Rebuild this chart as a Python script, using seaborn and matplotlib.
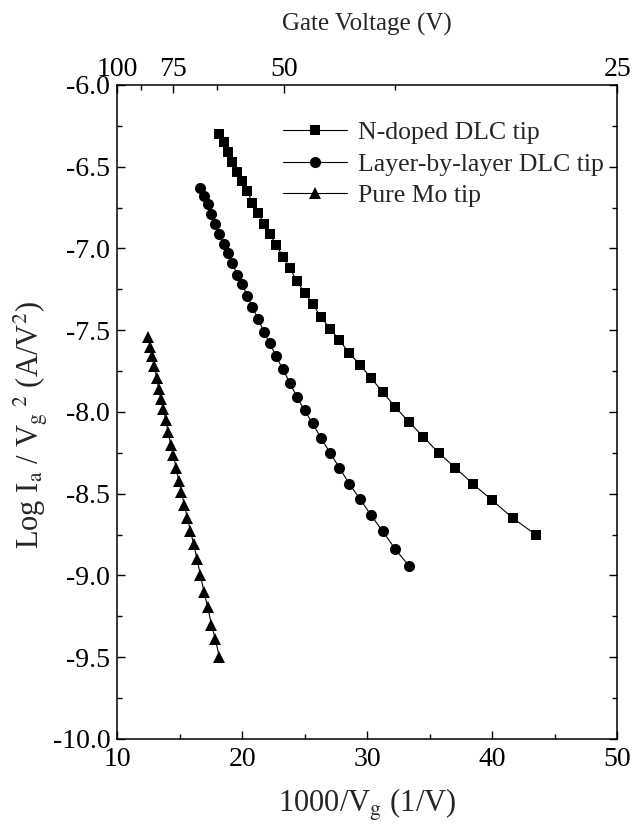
import numpy as np
import pandas as pd
import matplotlib
matplotlib.use('Agg')
import matplotlib.pyplot as plt
from matplotlib.ticker import MultipleLocator, FormatStrFormatter, FixedLocator
import seaborn as sns

# 1000/Vg (1/V) and Log Ia/Vg^2
NDOPED_X = [18.18, 18.52, 18.87, 19.23, 19.61, 20.00, 20.41, 20.83, 21.28, 21.74,
            22.22, 22.73, 23.26, 23.81, 24.39, 25.00, 25.64, 26.32, 27.03, 27.78,
            28.57, 29.41, 30.30, 31.25, 32.26, 33.33, 34.48, 35.71, 37.04, 38.46,
            40.00, 41.67, 43.48]
NDOPED_Y = [-6.30, -6.35, -6.41, -6.47, -6.53, -6.59, -6.65, -6.72, -6.78, -6.85,
            -6.91, -6.98, -7.05, -7.12, -7.20, -7.27, -7.34, -7.42, -7.49, -7.56,
            -7.64, -7.71, -7.79, -7.88, -7.97, -8.06, -8.15, -8.25, -8.34, -8.44,
            -8.54, -8.65, -8.75]

LAYER_X = [16.67, 16.95, 17.24, 17.54, 17.86, 18.18, 18.52, 18.87, 19.23, 19.61,
           20.00, 20.41, 20.83, 21.28, 21.74, 22.22, 22.73, 23.26, 23.81, 24.39,
           25.00, 25.64, 26.32, 27.03, 27.78, 28.57, 29.41, 30.30, 31.25, 32.26,
           33.33]
LAYER_Y = [-6.63, -6.68, -6.73, -6.79, -6.85, -6.91, -6.97, -7.03, -7.09, -7.16,
           -7.22, -7.29, -7.36, -7.43, -7.51, -7.58, -7.66, -7.74, -7.82, -7.91,
           -7.99, -8.07, -8.16, -8.25, -8.34, -8.44, -8.53, -8.63, -8.73, -8.84,
           -8.94]

MO_X = [12.50, 12.66, 12.82, 12.99, 13.16, 13.33, 13.51, 13.70, 13.89, 14.08,
        14.29, 14.49, 14.71, 14.93, 15.15, 15.38, 15.63, 15.87, 16.13, 16.39,
        16.67, 16.95, 17.24, 17.54, 17.86, 18.18]
MO_Y = [-7.54, -7.60, -7.66, -7.72, -7.79, -7.86, -7.92, -7.98, -8.05, -8.12,
        -8.20, -8.26, -8.34, -8.42, -8.49, -8.57, -8.65, -8.73, -8.81, -8.90,
        -9.00, -9.10, -9.19, -9.30, -9.39, -9.50]

TOP_VOLTAGES = [100, 75, 50, 25]
TOP_MINOR_VOLTAGES = [87.5, 62.5, 37.5]

sns.set_style('ticks')
plt.rcParams['font.family'] = ['Liberation Serif', 'DejaVu Serif']
plt.rcParams['mathtext.fontset'] = 'stix'
plt.rcParams['axes.unicode_minus'] = False

fig = plt.figure(figsize=(6.33, 8.39), dpi=100)
ax = fig.add_axes([0.185, 0.1192, 0.79, 0.7795])

line_kw = dict(color='black', linewidth=0.8, markeredgewidth=0, ax=ax)
sns.lineplot(x=NDOPED_X, y=NDOPED_Y, marker='s', markersize=7, label='N-doped DLC tip', **line_kw)
sns.lineplot(x=LAYER_X, y=LAYER_Y, marker='o', markersize=8, label='Layer-by-layer DLC tip', **line_kw)
sns.lineplot(x=MO_X, y=MO_Y, marker='^', markersize=8.5, label='Pure Mo tip', **line_kw)

ax.set_xlim(10, 50)
ax.set_ylim(-10, -6)
ax.xaxis.set_major_locator(MultipleLocator(10))
ax.xaxis.set_minor_locator(MultipleLocator(5))
ax.yaxis.set_major_locator(MultipleLocator(0.5))
ax.yaxis.set_minor_locator(MultipleLocator(0.25))
ax.yaxis.set_major_formatter(FormatStrFormatter('%.1f'))
ax.tick_params(which='both', direction='in', right=True, top=False, width=1.0, labelsize=20, colors='black')
ax.tick_params(which='major', length=6)
ax.tick_params(which='minor', length=3.5)
ax.tick_params(axis='x', which='major', pad=6)
ax.tick_params(axis='y', which='major', pad=5)
for s in ax.spines.values():
    s.set_linewidth(1.1)
    s.set_color('black')

ax.set_xlabel(r'1000/V$_{\rm g}$ (1/V)', fontsize=22, labelpad=10)
ax.set_ylabel(r'Log I$_{\rm a}$ / V$_{\rm g}$$^{\rm \ 2}$ (A/V$^{2}$)', fontsize=22, labelpad=2)
ax.yaxis.set_label_coords(-0.135, 0.48)

# top axis: gate voltage (original places 1000/V over 10..40 across the width)
top = ax.twiny()
top.set_xlim(10, 40)
top.xaxis.set_major_locator(FixedLocator([1000 / v for v in TOP_VOLTAGES]))
top.xaxis.set_minor_locator(FixedLocator([1000 / v for v in TOP_MINOR_VOLTAGES]))
top.set_xticklabels([str(v) for v in TOP_VOLTAGES])
top.tick_params(which='both', direction='in', labelsize=20, colors='black', width=1.0)
top.tick_params(which='major', length=6, pad=2)
top.tick_params(which='minor', length=3.5)
top.set_xlabel('Gate Voltage (V)', fontsize=18, labelpad=19)
for s in top.spines.values():
    s.set_visible(False)

ax.legend(loc='upper left', bbox_to_anchor=(0.332, 0.945), frameon=False, fontsize=18.5,
          handlelength=2.5, handletextpad=0.4, labelspacing=0.34, borderaxespad=0, borderpad=0)

fig.savefig('out.png', dpi=100, facecolor='white')
